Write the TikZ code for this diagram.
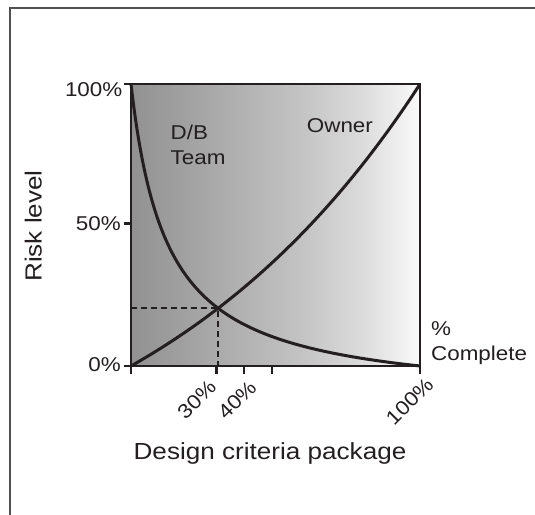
\documentclass[tikz,border=0pt]{standalone}
\usepackage{fontspec}
\setmainfont[FakeStretch=1.12]{Liberation Sans}
\usetikzlibrary{intersections}
\definecolor{inkdk}{RGB}{35,31,32}
\definecolor{framegr}{RGB}{80,80,80}
\definecolor{shA}{RGB}{145,145,145}
\definecolor{shB}{RGB}{170,170,170}
\definecolor{shC}{RGB}{195,195,195}
\definecolor{shD}{RGB}{218,218,218}
\definecolor{shE}{RGB}{250,250,250}
\pgfdeclarehorizontalshading{riskfade}{100bp}{color(0bp)=(shA); color(25bp)=(shA); color(39.7bp)=(shB); color(54.25bp)=(shC); color(64.5bp)=(shD); color(75bp)=(shE); color(100bp)=(shE)}
\tikzstyle{lbtick} = [font=\fontsize{20}{25}\selectfont, text=inkdk, inner sep=0pt]
\tikzstyle{lbaxis} = [font=\fontsize{23.3}{28}\selectfont, text=inkdk, inner sep=0pt]
\tikzstyle{lncurve} = [line width=3pt, inkdk]
\tikzstyle{lnbox} = [line width=2.5pt, inkdk]
\tikzstyle{lnguide} = [line width=1.6pt, inkdk, dash pattern=on 6pt off 4pt]

\begin{document}
\begin{tikzpicture}[x=1pt, y=-1pt]
	\useasboundingbox (0,0) rectangle (535,514);
	\draw[framegr, line width=1.2pt] (10,530) -- (10,8) -- (545,8);
	\coordinate (o) at (131,366);
	\coordinate (t) at (420,84);
	\shade[shading=riskfade] (o) rectangle (t);
	% risk curves
	\begin{scope}[shift={(o)}, x=289pt, y=282pt]
		\draw[lncurve, name path global=db] plot[domain=0:1, samples=200] (\x, {(1-\x)*0.125/(\x+0.125)});
		\draw[lncurve, name path global=own] plot[domain=0:1, samples=80] (\x, {(exp(\x)-1)/(exp(1)-1)});
	\end{scope}
	\path[name intersections={of=db and own, by=cross}];
	\draw[lnguide] (cross -| o) -- (cross) -- (cross |- o);
	% axes and ticks
	\draw[lnbox] (o) rectangle (t);
	\foreach \yy in {84, 223.5, 366}
		\draw[lnbox] (124,\yy) -- (131,\yy);
	\foreach \xx in {131, 216.5, 244, 272, 420}
		\draw[lnbox] (\xx,366) -- (\xx,374);
	\node[lbtick, anchor=east] (y100) at (122.5,90) {100\%};
	\node[lbtick, anchor=east] (y50) at (121,223.5) {50\%};
	\node[lbtick, anchor=east] (y0) at (121,365) {0\%};
	\node[lbtick, anchor=east, rotate=45] (x30) at (212.7,383.4) {30\%};
	\node[lbtick, anchor=east, rotate=45] (x40) at (253,384) {40\%};
	\node[lbtick, anchor=east, rotate=45] (x100) at (430,381) {100\%};
	\node[lbtick, anchor=north west, align=left] (dbteam) at (170.5,124.5) {D/B\\Team};
	\node[lbtick, anchor=base west] (owner) at (306.7,132.3) {Owner};
	\node[lbtick, anchor=north west, align=left] (pctdone) at (431,321.5) {\%\\Complete};
	\node[lbaxis, rotate=90, anchor=base] (risk) at (41.7,226) {Risk level};
	\node[lbaxis, anchor=base] (design) at (270,459) {Design criteria package};
\end{tikzpicture}
\end{document}
